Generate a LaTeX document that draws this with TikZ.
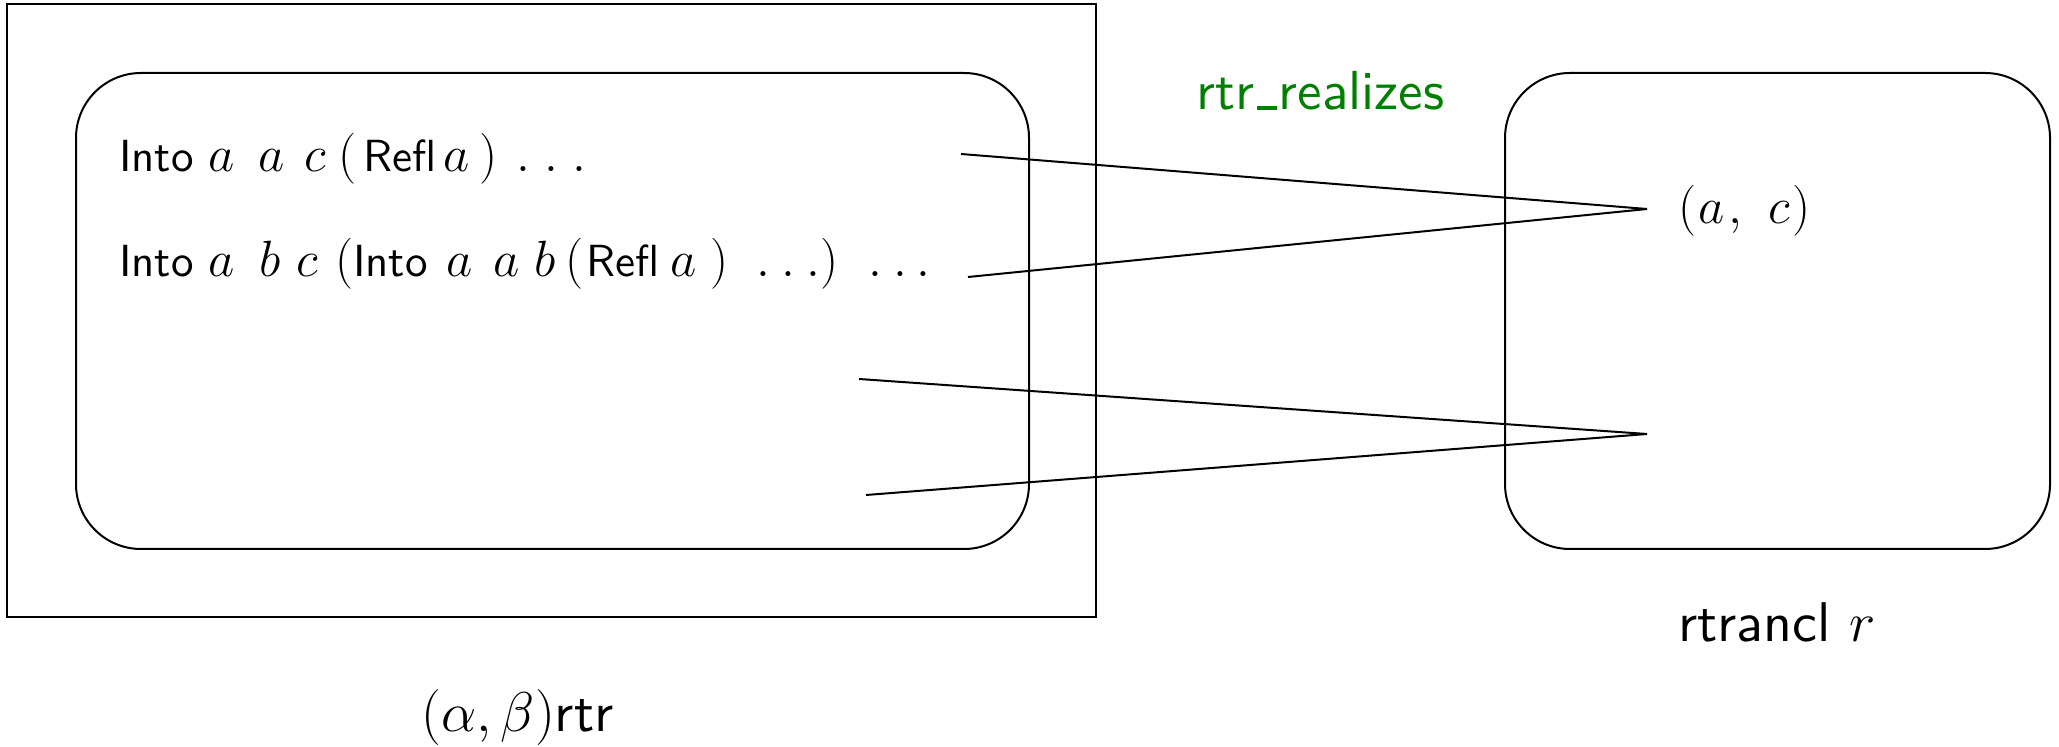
\RequirePackage{fix-cm}
\documentclass[tikz,border=0pt]{standalone}
\usepackage{amsmath}
\usepackage{fontspec}
\setsansfont{lmsans10-regular.otf}
\definecolor{realgreen}{RGB}{0,128,0}
\begin{document}
\begin{tikzpicture}[x=0.5pt,y=-0.5pt,
  frame/.style={draw=black,line width=1pt},
  rbox/.style={draw=black,line width=1pt,rounded corners=32.5pt},
  conn/.style={draw=black,line width=1pt},
  tokS/.style={anchor=base west,inner sep=0pt,font=\fontsize{22.5}{27}\selectfont\sffamily},
  tokM/.style={anchor=base west,inner sep=0pt,font=\fontsize{25.5}{30}\selectfont},
  lbl/.style={anchor=base west,inner sep=0pt,font=\fontsize{28}{34}\selectfont\sffamily}]
\useasboundingbox (0,0) rectangle (2059,747);
% outer frame
\draw[frame] (7,4) rectangle (1096,617);
% rounded boxes
\draw[rbox] (76,73) rectangle (1029,549);
\draw[rbox] (1505,73) rectangle (2050,549);
% line 1: Into a a c (Refl a) . . .
\foreach \x/\t [count=\i] in {118.6/Into, 362.8/Refl}
  \node[tokS] (l1s\i) at (\x,172) {\t};
\foreach \x/\t [count=\i] in {208/a, 258/a, 304/c, 338/(, 443/a, 479/), 516/., 544/., 572/.}
  \node[tokM] (l1m\i) at (\x,172) {$\t$};
% line 2: Into a b c (Into a a b (Refl a) . . .) . . .
\foreach \x/\t [count=\i] in {118.6/Into, 352.6/Into, 585.8/Refl}
  \node[tokS] (l2s\i) at (\x,277) {\t};
\foreach \x/\t [count=\i] in {208/a, 259.4/b, 296/c, 335/(, 446/a, 493/a, 534.4/b, 565/(, 670/a, 710/), 756/., 781/., 806/., 820/), 868/., 893/., 916/.}
  \node[tokM] (l2m\i) at (\x,277) {$\t$};
% pair (a, c)
\foreach \x/\t [count=\i] in {1678/(, 1698/a, 1728/{,}, 1768/c, 1792/)}
  \node[tokM] (pm\i) at (\x,224) {$\t$};
% labels
\node[lbl,text=realgreen,font=\fontsize{27.5}{33}\selectfont\sffamily] (rz) at (1196,110) {rtr\kern1.5pt\rule{10pt}{2pt}\kern1pt realizes};
\node[lbl] (rt) at (1678,641) {rtrancl $r$};
\node[lbl] (ab) at (421,731) {$(\alpha,\beta)$rtr};
% connector ends
\coordinate (s1) at (961,154);
\coordinate (s2) at (968,277);
\coordinate (s3) at (859,379);
\coordinate (s4) at (866,495);
\coordinate (e1) at (1647,209);
\coordinate (e2) at (1647,434);
\draw[conn] (s1) -- (e1) -- (s2);
\draw[conn] (s3) -- (e2) -- (s4);
\end{tikzpicture}
\end{document}
